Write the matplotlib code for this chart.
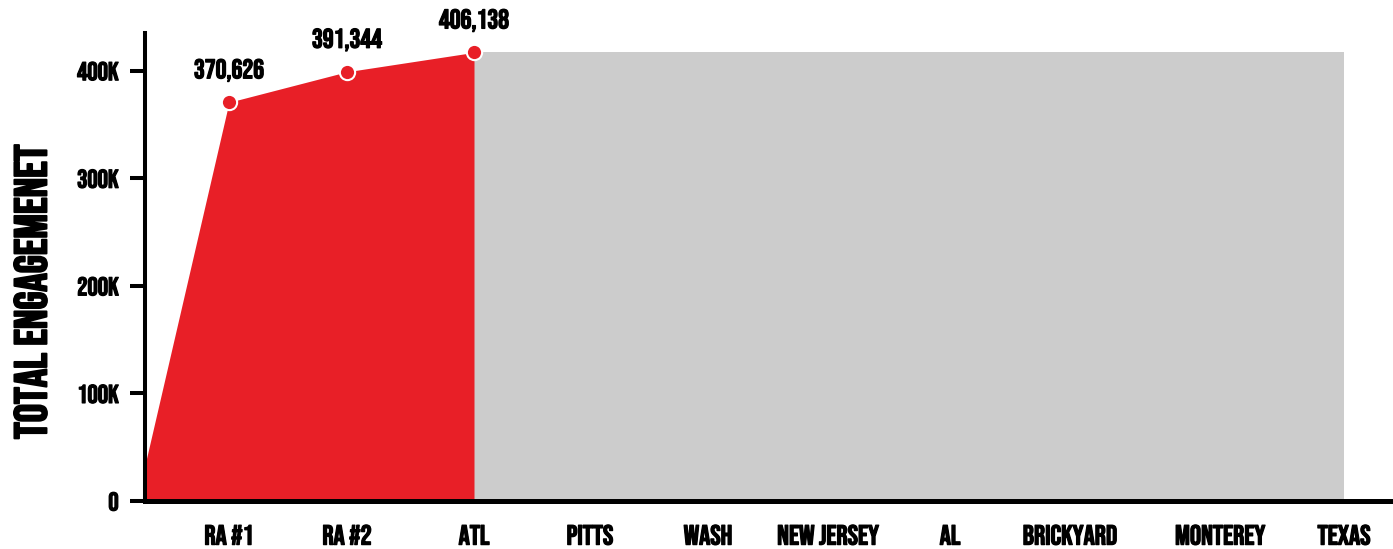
import matplotlib
matplotlib.use("Agg")
import matplotlib.pyplot as plt
import matplotlib.patheffects as pe
from matplotlib.ticker import FixedLocator, FuncFormatter

plt.rcParams['font.family'] = ['Bebas Neue', 'DejaVu Sans']

# races along the season (x = position on the season timeline)
races = ["RA #1", "RA #2", "ATL", "PITTS", "WASH", "NEW JERSEY", "AL",
         "BRICKYARD", "MONTEREY", "TEXAS"]
race_x = [84, 202, 329, 445, 563, 683, 805, 925, 1075, 1199]

# cumulative engagement so far (start of season + first three events)
start_x = 0
start_value = 33500
engagement = [370626, 399000, 417000]
engagement_labels = ["370,626", "391,344", "406,138"]

red = "#e81f27"
gray = "#cccccc"
# Bebas Neue only ships a regular weight here, thicken it a bit
bold = [pe.withStroke(linewidth=0.9, foreground="black")]

fig = plt.figure(figsize=(13.93, 5.49), dpi=100)
ax = fig.add_axes([145 / 1393, 48 / 549, 1248 / 1393, 468 / 549])

n = len(engagement)
done_x = [start_x] + race_x[:n]
done_y = [start_value] + engagement
ax.fill_between(done_x, 0, done_y, color=red, linewidth=0, zorder=1)

# rest of the season, projected flat
ax.fill_between([race_x[n - 1], race_x[-1]], 0, engagement[-1],
                color=gray, linewidth=0, zorder=0.9)

ax.plot(race_x[:n], engagement, "o", color=red, markersize=11,
        markeredgecolor="white", markeredgewidth=1.5, zorder=5, clip_on=False)

for x, y, lab in zip(race_x[:n], engagement, engagement_labels):
    ax.annotate(lab, (x, y), xytext=(0, 23), textcoords="offset points",
                ha="center", va="center", fontsize=19.5,
                annotation_clip=False, path_effects=bold)

ax.set_xlim(0, 1248)
ax.set_ylim(0, 435000)

ax.set_yticks([0, 100000, 200000, 300000, 400000])
ax.yaxis.set_major_formatter(FuncFormatter(lambda v, p: "0" if v == 0 else f"{int(v / 1000)}K"))
ax.tick_params(axis="y", which="major", direction="out", length=11, width=2.9,
               labelsize=18.5, pad=8)

ax.set_xticks(race_x)
ax.set_xticklabels(races)
ax.tick_params(axis="x", which="major", length=0, labelsize=20, pad=17)
ax.xaxis.set_minor_locator(FixedLocator([race_x[0], race_x[1], race_x[2], race_x[-1]]))
ax.tick_params(axis="x", which="minor", direction="in", length=12, width=2.9)

for lab in ax.get_xticklabels() + ax.get_yticklabels():
    lab.set_path_effects(bold)

for s in ["top", "right"]:
    ax.spines[s].set_visible(False)
ax.spines["left"].set_linewidth(2.9)
ax.spines["bottom"].set_linewidth(3.6)
ax.spines["left"].set_zorder(6)
ax.spines["bottom"].set_zorder(6)

fig.text(30 / 1393, 1 - 292 / 549, "TOTAL ENGAGEMENET", rotation=90,
         ha="center", va="center", fontsize=33,
         path_effects=[pe.withStroke(linewidth=1.4, foreground="black")])

fig.savefig("out.png", dpi=100)
